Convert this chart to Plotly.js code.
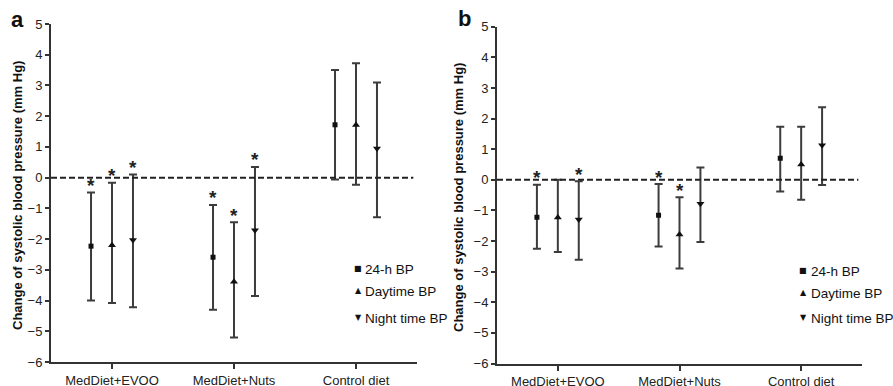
<!DOCTYPE html>
<html>
<head>
<meta charset="utf-8">
<script src="https://cdn.plot.ly/plotly-3.0.1.min.js"></script>
<style>html,body{margin:0;padding:0;background:#fff;}#chart{width:893px;height:386px;}</style>
</head>
<body>
<div id="chart"></div>
<script>
// ---- data ----
const categories = ["MedDiet+EVOO", "MedDiet+Nuts", "Control diet"];
const seriesNames = ["24-h BP", "Daytime BP", "Night time BP"];
const yTickVals = [-6, -5, -4, -3, -2, -1, 0, 1, 2, 3, 4, 5];

// Panel a
const aMean24 = [-2.23, -2.59, 1.72];
const aMeanDay = [-2.20, -3.39, 1.71];
const aMeanNight = [-2.03, -1.71, 0.95];
const aUpper24 = [-0.48, -0.89, 3.50];
const aUpperDay = [-0.17, -1.45, 3.72];
const aUpperNight = [0.10, 0.35, 3.10];
const aLower24 = [-4.00, -4.30, -0.06];
const aLowerDay = [-4.08, -5.20, -0.23];
const aLowerNight = [-4.22, -3.85, -1.29];
const aSig24 = [1, 1, 0];
const aSigDay = [1, 1, 0];
const aSigNight = [1, 1, 0];

// Panel b
const bMean24 = [-1.22, -1.16, 0.70];
const bMeanDay = [-1.23, -1.79, 0.50];
const bMeanNight = [-1.30, -0.78, 1.13];
const bUpper24 = [-0.16, -0.14, 1.73];
const bUpperDay = [0.00, -0.57, 1.73];
const bUpperNight = [-0.05, 0.40, 2.37];
const bLower24 = [-2.25, -2.18, -0.38];
const bLowerDay = [-2.36, -2.90, -0.65];
const bLowerNight = [-2.61, -2.03, -0.17];
const bSig24 = [1, 1, 0];
const bSigDay = [0, 1, 0];
const bSigNight = [1, 0, 0];

// ---- drawing ----
const FONT = "Liberation Sans, Arial, sans-serif";
const offsets = [-0.172, 0, 0.172];
const symbols = ["square", "triangle-up", "triangle-down"];
const sizes = [5, 7, 7];

const panels = [
  {xa: "x", ya: "y", means: [aMean24, aMeanDay, aMeanNight], up: [aUpper24, aUpperDay, aUpperNight], lo: [aLower24, aLowerDay, aLowerNight], sig: [aSig24, aSigDay, aSigNight]},
  {xa: "x2", ya: "y2", means: [bMean24, bMeanDay, bMeanNight], up: [bUpper24, bUpperDay, bUpperNight], lo: [bLower24, bLowerDay, bLowerNight], sig: [bSig24, bSigDay, bSigNight]}
];

const traces = [];
const annotations = [];
panels.forEach(p => {
  for (let s = 0; s < 3; s++) {
    const xs = categories.map((c, i) => i + 1 + offsets[s]);
    const m = p.means[s];
    traces.push({
      type: "scatter", mode: "markers", name: seriesNames[s],
      x: xs, y: m, xaxis: p.xa, yaxis: p.ya,
      marker: {symbol: symbols[s], size: sizes[s], color: "#111"},
      error_y: {type: "data", symmetric: false,
        array: m.map((v, i) => p.up[s][i] - v),
        arrayminus: m.map((v, i) => v - p.lo[s][i]),
        color: "#3c3c3c", thickness: 2, width: 4},
      showlegend: false, hoverinfo: "skip"
    });
    p.sig[s].forEach((f, i) => {
      if (f) annotations.push({
        xref: p.xa, yref: p.ya, x: xs[i], y: p.up[s][i], text: "<b>*</b>",
        showarrow: false, yshift: 7, yanchor: "middle", xanchor: "center",
        font: {family: FONT, size: 19, color: "#222"}
      });
    });
  }
});

const axisCommon = {
  showline: true, linecolor: "#333", linewidth: 2, mirror: false,
  ticks: "outside", ticklen: 4, tickwidth: 2, tickcolor: "#333",
  showgrid: false, zeroline: false,
  tickfont: {family: FONT, size: 13, color: "#222"}
};

const xAxis = (domain, anchor) => Object.assign({}, axisCommon, {
  domain: domain, anchor: anchor, range: [0.5, 3.5], tickmode: "array",
  tickvals: categories.map((c, i) => i + 1), ticktext: categories, ticklen: 5
});
const yAxis = (domain, anchor) => Object.assign({}, axisCommon, {
  domain: domain, anchor: anchor, range: [-6, 5], tickmode: "array", tickvals: yTickVals
});

const yTitle = "Change of systolic blood pressure (mm Hg)";
annotations.push(
  {xref: "paper", yref: "paper", x: 17 / 893, y: 1 - 196 / 386, xanchor: "center", yanchor: "middle", text: "<b>" + yTitle + "</b>", textangle: -90, showarrow: false, font: {family: FONT, size: 13, color: "#111"}},
  {xref: "paper", yref: "paper", x: 458 / 893, y: 1 - 197 / 386, xanchor: "center", yanchor: "middle", text: "<b>" + yTitle + "</b>", textangle: -90, showarrow: false, font: {family: FONT, size: 13, color: "#111"}},
  {xref: "paper", yref: "paper", x: 17 / 893, y: 1 - 20 / 386, xanchor: "center", yanchor: "middle", text: "<b>a</b>", showarrow: false, font: {family: FONT, size: 22, color: "#111"}},
  {xref: "paper", yref: "paper", x: 464 / 893, y: 1 - 19 / 386, xanchor: "center", yanchor: "middle", text: "<b>b</b>", showarrow: false, font: {family: FONT, size: 22, color: "#111"}}
);

// legends (glyph + text)
const glyphs = ["■", "▲", "▼"];
const legendA = {mx: 358, tx: 363, ys: [269, 291, 318]};
const legendB = {mx: 803, tx: 809, ys: [271, 293, 318]};
[legendA, legendB].forEach(L => {
  seriesNames.forEach((n, i) => {
    annotations.push({xref: "paper", yref: "paper", x: L.mx / 893, y: 1 - L.ys[i] / 386, xanchor: "center", yanchor: "middle",
      text: glyphs[i], showarrow: false, yshift: 1,
      font: {family: "DejaVu Sans", size: 8, color: "#111"}});
    annotations.push({xref: "paper", yref: "paper", x: L.tx / 893, y: 1 - L.ys[i] / 386, xanchor: "left", yanchor: "middle",
      text: n, showarrow: false,
      font: {family: FONT, size: 13.5, color: "#111"}});
  });
});

const shapes = [
  {type: "line", xref: "x domain", yref: "y", x0: 0, x1: 0.99, y0: 0, y1: 0, line: {color: "#222", width: 2, dash: "6px,3px"}},
  {type: "line", xref: "x2 domain", yref: "y2", x0: 0, x1: 0.99, y0: 0, y1: 0, line: {color: "#222", width: 2, dash: "6px,3px"}}
];

const layout = {
  width: 893, height: 386,
  margin: {l: 0, r: 0, t: 0, b: 0},
  paper_bgcolor: "#fff", plot_bgcolor: "#fff",
  showlegend: false,
  xaxis: xAxis([51 / 893, 417 / 893], "y"),
  yaxis: yAxis([1 - 362 / 386, 1 - 24 / 386], "x"),
  xaxis2: xAxis([497 / 893, 862 / 893], "y2"),
  yaxis2: yAxis([1 - 363.5 / 386, 1 - 26.7 / 386], "x2"),
  annotations: annotations,
  shapes: shapes
};

Plotly.newPlot("chart", traces, layout, {displayModeBar: false, staticPlot: true});
</script>
</body>
</html>
